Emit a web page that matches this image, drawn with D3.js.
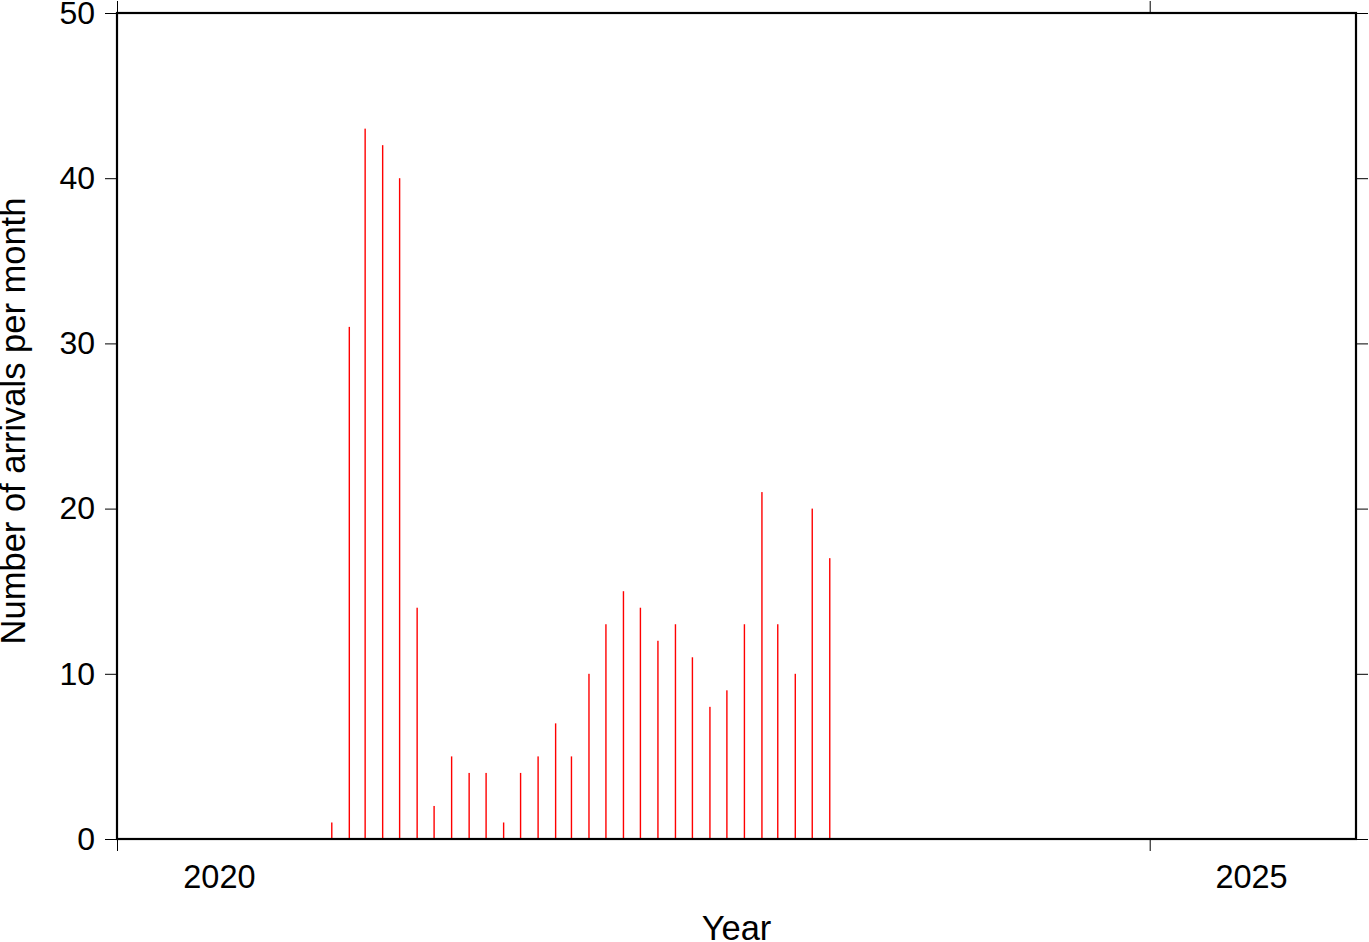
<!DOCTYPE html>
<html>
<head>
<meta charset="utf-8">
<script src="https://cdn.jsdelivr.net/npm/d3@7/dist/d3.min.js"></script>
<style>
  html, body { margin: 0; padding: 0; background: #fff; }
  svg { display: block; font-family: "Liberation Sans", Arial, Helvetica, sans-serif; }
</style>
</head>
<body>
<svg id="chart" width="1369" height="942"></svg>
<script>
// ---- data ----
const months = [
  "2021-01","2021-02","2021-03","2021-04","2021-05","2021-06","2021-07","2021-08","2021-09","2021-10","2021-11","2021-12",
  "2022-01","2022-02","2022-03","2022-04","2022-05","2022-06","2022-07","2022-08","2022-09","2022-10","2022-11","2022-12",
  "2023-01","2023-02","2023-03","2023-04","2023-05","2023-06"
];
const arrivals = [
  1, 31, 43, 42, 40, 14, 2, 5, 4, 4, 1, 4,
  5, 7, 5, 10, 13, 15, 14, 12, 13, 11, 8, 9,
  13, 21, 13, 10, 20, 17
];
const yTicks = [0, 10, 20, 30, 40, 50];
const xTickYears = [2020, 2025];
const xLabel = "Year";
const yLabel = "Number of arrivals per month";

// ---- layout ----
const svg = d3.select("#chart");
const L = 117, R = 1356, T = 13, B = 839;
const parse = d3.timeParse("%Y-%m-%d");

const x = d3.scaleTime()
  .domain([new Date(2020, 0, 1), new Date(2026, 0, 1)])
  .range([L, R]);
const y = d3.scaleLinear().domain([0, 50]).range([B, T]);

// bars (thin red sticks at mid-month)
svg.append("g").selectAll("rect")
  .data(months.map((m, i) => ({ date: parse(m + "-15"), v: arrivals[i] })))
  .join("rect")
  .attr("x", d => x(d.date) - 0.7)
  .attr("width", 1.4)
  .attr("y", d => y(d.v))
  .attr("height", d => y(0) - y(d.v))
  .attr("fill", "#ff0000");

// axes
const tickLen = 12;
const yLeft = svg.append("g").attr("transform", `translate(${L},0)`)
  .call(d3.axisLeft(y).tickValues(yTicks).tickSize(tickLen).tickPadding(10).tickFormat(d3.format("d")));
const yRight = svg.append("g").attr("transform", `translate(${R},0)`)
  .call(d3.axisRight(y).tickValues(yTicks).tickSize(tickLen).tickFormat(""));
const xTickDates = xTickYears.map(yr => new Date(yr, 0, 1));
const xBottom = svg.append("g").attr("transform", `translate(0,${B})`)
  .call(d3.axisBottom(x).tickValues(xTickDates).tickSize(tickLen).tickFormat(""));
const xTop = svg.append("g").attr("transform", `translate(0,${T})`)
  .call(d3.axisTop(x).tickValues(xTickDates).tickSize(tickLen).tickFormat(""));

[yLeft, yRight, xBottom, xTop].forEach(g => {
  g.select(".domain").remove();
  g.selectAll(".tick line").attr("stroke", "#000").attr("stroke-width", 1);
});
yLeft.selectAll(".tick text")
  .attr("font-size", 32).attr("fill", "#000")
  .attr("font-family", "'Liberation Sans', Arial, sans-serif");

// x labels centered in the year interval
svg.append("g").selectAll("text")
  .data(xTickYears)
  .join("text")
  .attr("x", d => x(new Date(d, 6, 2)) - 1)
  .attr("y", 888)
  .attr("text-anchor", "middle")
  .attr("font-size", 32.5)
  .attr("fill", "#000")
  .text(d => d);

// frame
svg.append("rect")
  .attr("x", L).attr("y", T)
  .attr("width", R - L).attr("height", B - T)
  .attr("fill", "none").attr("stroke", "#000").attr("stroke-width", 2.2);

// axis titles
svg.append("text")
  .attr("x", (L + R) / 2).attr("y", 940)
  .attr("text-anchor", "middle")
  .attr("font-size", 34.5).attr("fill", "#000")
  .text(xLabel);

svg.append("text")
  .attr("transform", `translate(25,421) rotate(-90)`)
  .attr("text-anchor", "middle")
  .attr("font-size", 34.5).attr("fill", "#000")
  .text(yLabel);
</script>
</body>
</html>
